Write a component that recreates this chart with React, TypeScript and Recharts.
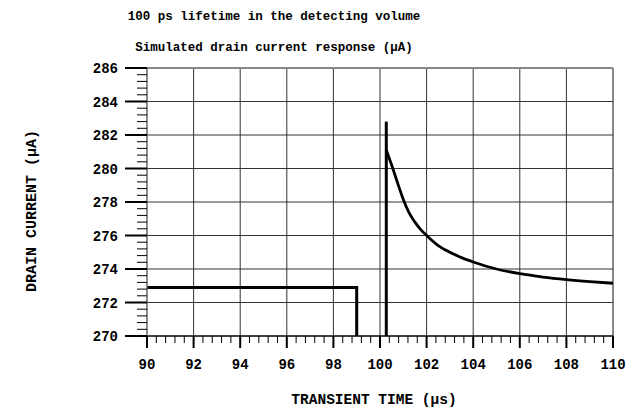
import { LineChart, Line, XAxis, YAxis, ReferenceLine } from "recharts"

// axis ticks (major, labelled)
const X_MAJOR = [90, 92, 94, 96, 98, 100, 102, 104, 106, 108, 110]
const Y_MAJOR = [270, 272, 274, 276, 278, 280, 282, 284, 286]
const SUBDIV = 5

// drain current before the event: flat, then switched off at 99 us
const PRE_T = [90, 99, 99]
const PRE_I = [272.9, 272.9, 270]

// switch-on spike at ~100.27 us
const SPIKE_T = [100.27, 100.27]
const SPIKE_I = [270, 282.8]

// relaxation after the spike
const DECAY_T = [100.27, 100.55, 100.8, 101, 101.25, 101.5, 101.75, 102, 102.5, 103, 103.5, 104, 105, 106, 107, 108, 109, 110]
const DECAY_I = [281.1, 280.0, 278.95, 278.15, 277.35, 276.8, 276.35, 276.0, 275.4, 275.0, 274.68, 274.42, 274.0, 273.72, 273.52, 273.37, 273.25, 273.15]

const toPoints = (ts: number[], vs: number[]) => ts.map((t, i) => ({ t, v: vs[i] }))
const preData = toPoints(PRE_T, PRE_I)
const spikeData = toPoints(SPIKE_T, SPIKE_I)
const decayData = toPoints(DECAY_T, DECAY_I)

// minor ticks between the labelled ones
const withMinor = (major: number[]) => {
  const out: number[] = []
  for (let i = 0; i < major.length - 1; i++) {
    const step = (major[i + 1] - major[i]) / SUBDIV
    for (let k = 0; k < SUBDIV; k++) out.push(+(major[i] + k * step).toFixed(4))
  }
  out.push(major[major.length - 1])
  return out
}
const X_TICKS = withMinor(X_MAJOR)
const Y_TICKS = withMinor(Y_MAJOR)

const FONT = '"Courier New", "Liberation Mono", monospace'

const XTick = (props: any) => {
  const { x, y, payload } = props
  const major = X_MAJOR.includes(payload.value)
  return (
    <g>
      <line x1={x} x2={x} y1={y} y2={y + (major ? 12 : 7)} stroke="#000" strokeWidth={major ? 2 : 1} />
      {major && (
        <text x={x} y={y + 33} textAnchor="middle" fontFamily={FONT} fontWeight="bold" fontSize={14} fill="#000">
          {payload.value}
        </text>
      )}
    </g>
  )
}

const YTick = (props: any) => {
  const { x, y, payload } = props
  const major = Y_MAJOR.includes(payload.value)
  return (
    <g>
      <line x1={x - (major ? 22 : 10)} x2={x} y1={y} y2={y} stroke="#000" strokeWidth={major ? 2 : 1} />
      {major && (
        <text x={x - 29} y={y + 5} textAnchor="end" fontFamily={FONT} fontWeight="bold" fontSize={14} fill="#000">
          {payload.value}
        </text>
      )}
    </g>
  )
}

const textStyle: React.CSSProperties = {
  position: "absolute",
  fontFamily: FONT,
  fontWeight: "bold",
  color: "#000",
  whiteSpace: "nowrap",
  lineHeight: 1,
  transform: "translate(-50%, -50%)",
}

export default function App() {
  return (
    <div style={{ position: "absolute", left: 0, top: 0, width: 630, height: 407, background: "#fff" }}>
      <div style={{ ...textStyle, left: 274, top: 17, fontSize: 12.5 }}>100 ps lifetime in the detecting volume</div>
      <div style={{ ...textStyle, left: 274, top: 48, fontSize: 12.5 }}>Simulated drain current response (µA)</div>
      <div style={{ ...textStyle, left: 374, top: 400, fontSize: 14.5 }}>TRANSIENT TIME (µs)</div>
      <div style={{ ...textStyle, left: 32, top: 211, fontSize: 15, transform: "translate(-50%, -50%) rotate(-90deg)" }}>
        DRAIN CURRENT (µA)
      </div>
      <div style={{ position: "absolute", left: 0, top: 0 }}>
        <LineChart width={630} height={407} margin={{ top: 68, right: 17, bottom: 0, left: 0 }}>
          <XAxis
            type="number"
            dataKey="t"
            domain={[90, 110]}
            ticks={X_TICKS}
            interval={0}
            allowDataOverflow
            height={71}
            tickSize={0}
            tickMargin={0}
            tickLine={false}
            axisLine={{ stroke: "#000", strokeWidth: 1.5 }}
            tick={<XTick />}
          />
          <YAxis
            type="number"
            dataKey="v"
            domain={[270, 286]}
            ticks={Y_TICKS}
            interval={0}
            allowDataOverflow
            width={147}
            tickSize={0}
            tickMargin={0}
            tickLine={false}
            axisLine={{ stroke: "#666", strokeWidth: 1.5 }}
            tick={<YTick />}
          />
          {X_MAJOR.slice(1).map((v) => (
            <ReferenceLine key={"gx" + v} x={v} stroke={v === 110 ? "#888" : "#333"} strokeWidth={v === 110 ? 2 : 1} />
          ))}
          {Y_MAJOR.slice(1).map((v) => (
            <ReferenceLine key={"gy" + v} y={v} stroke={v === 286 ? "#888" : "#333"} strokeWidth={v === 286 ? 2 : 1} />
          ))}
          <Line data={preData} dataKey="v" type="linear" stroke="#000" strokeWidth={3} dot={false} isAnimationActive={false} />
          <Line data={spikeData} dataKey="v" type="linear" stroke="#000" strokeWidth={3} dot={false} isAnimationActive={false} />
          <Line data={decayData} dataKey="v" type="monotone" stroke="#000" strokeWidth={2.8} dot={false} isAnimationActive={false} />
        </LineChart>
      </div>
    </div>
  )
}
